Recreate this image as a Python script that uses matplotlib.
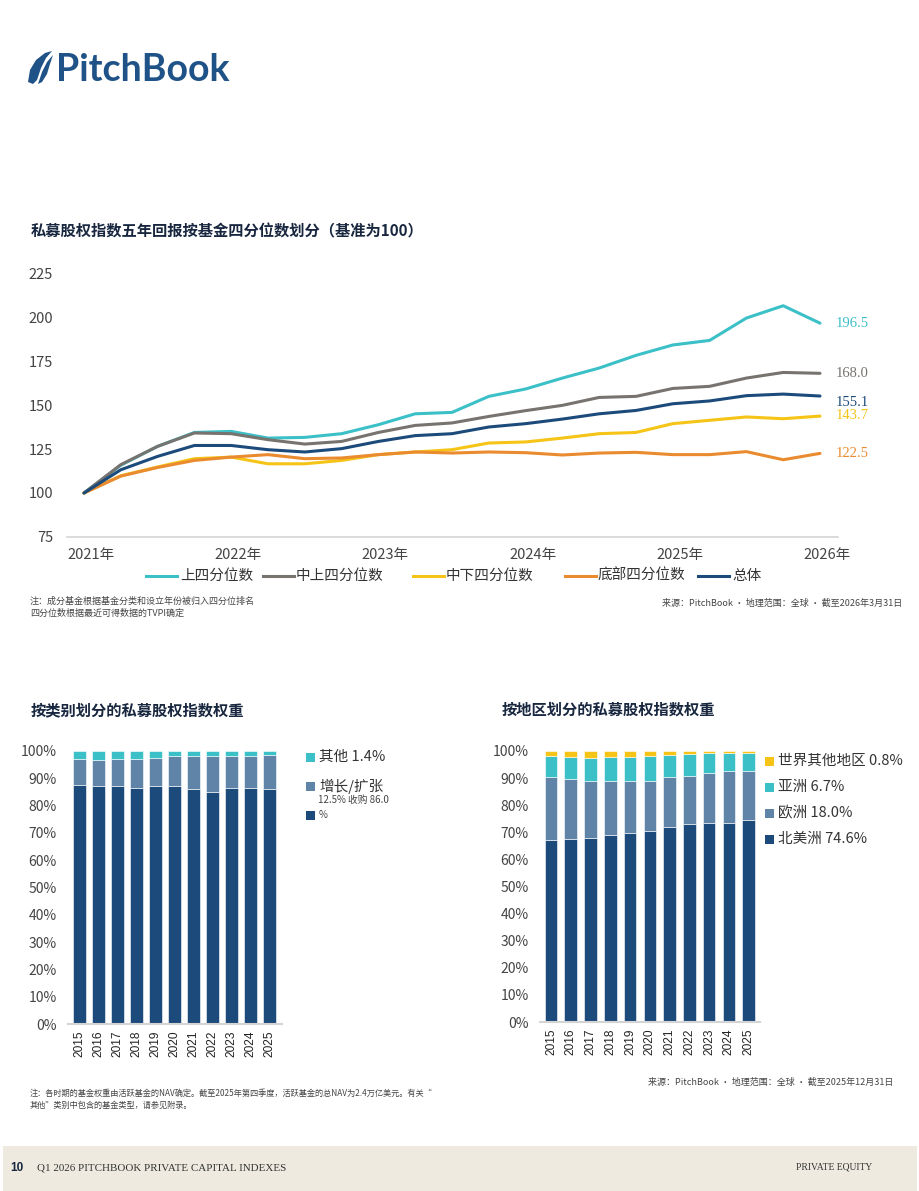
import matplotlib
matplotlib.use('Agg')
import matplotlib.pyplot as plt
from matplotlib.lines import Line2D
from matplotlib.patches import Rectangle, Polygon
import matplotlib.transforms as mtransforms
import numpy as np

plt.rcParams['font.family'] = ['Noto Sans CJK SC', 'DejaVu Sans']

W, H = 920, 1191

# ---------------- data ----------------
quarters = list(range(21))
year_ticks = [0, 4, 8, 12, 16, 20]
year_labels = ['2021年', '2022年', '2023年', '2024年', '2025年', '2026年']

upper_q = [100, 115.8, 126.5, 134.4, 135.0, 131.2, 131.6, 133.7, 138.8, 145.0, 145.8,
           154.9, 159.1, 165.3, 171.0, 178.2, 184.1, 186.7, 199.4, 206.4, 196.5]
upper_mid_q = [100, 116.1, 126.5, 134.1, 133.7, 130.3, 127.8, 129.3, 134.4, 138.4, 139.8,
               143.5, 146.8, 149.8, 154.3, 154.9, 159.4, 160.6, 165.3, 168.5, 168.0]
lower_mid_q = [100, 109.8, 114.8, 119.5, 120.4, 116.6, 116.6, 118.5, 121.8, 123.3, 124.6,
               128.4, 129.0, 131.2, 133.7, 134.4, 139.4, 141.3, 143.2, 142.2, 143.7]
bottom_q = [100, 109.6, 114.5, 118.5, 120.4, 121.8, 119.5, 119.9, 121.8, 123.3, 122.7,
            123.3, 122.9, 121.6, 122.7, 123.1, 121.8, 121.8, 123.5, 118.9, 122.5]
overall = [100, 113.2, 120.8, 127.0, 127.0, 124.6, 123.3, 125.2, 129.3, 132.6, 133.7,
           137.5, 139.4, 142.0, 145.0, 146.9, 150.7, 152.3, 155.3, 156.2, 155.1]
series_names = ['上四分位数', '中上四分位数', '中下四分位数', '底部四分位数', '总体']

years = ['2015', '2016', '2017', '2018', '2019', '2020', '2021', '2022', '2023', '2024', '2025']
# by category (%)
buyout = [87.7, 87.0, 87.3, 86.3, 87.3, 87.0, 86.0, 85.1, 86.3, 86.6, 86.0]
growth = [9.3, 9.8, 9.7, 10.9, 10.3, 11.3, 12.3, 12.9, 12.0, 11.7, 12.5]
other = [3.0, 3.2, 3.0, 2.8, 2.4, 1.7, 1.7, 2.0, 1.7, 1.7, 1.4]
# by region (%)
north_america = [67.3, 67.7, 68.0, 69.1, 69.9, 70.3, 71.8, 73.0, 73.5, 73.5, 74.6]
europe = [23.0, 21.8, 21.0, 19.7, 18.9, 18.5, 18.6, 17.8, 18.4, 19.1, 18.0]
asia = [8.0, 8.2, 8.6, 9.0, 9.1, 9.5, 8.3, 8.0, 7.2, 6.8, 6.7]
rest_world = [1.7, 2.3, 2.4, 2.2, 2.1, 1.7, 1.3, 1.2, 0.9, 0.6, 0.8]

# ---------------- style ----------------
C_CYAN = '#3CC0C8'
C_GRAY = '#77736E'
C_YEL = '#F5C417'
C_ORG = '#E98B2E'
C_NAVY = '#1C4B7B'
C_STEEL = '#6084A7'
C_TITLE = '#18273F'
C_TICK = '#444444'

fig = plt.figure(figsize=(W / 100, H / 100), dpi=100)


def fx(x):
    return x / W


def fy(y):
    return 1 - y / H


def ax_rect(l, t, r, b):
    return [fx(l), fy(b), fx(r) - fx(l), (b - t) / H]


# ---------------- logo ----------------
fig.patches.append(Polygon([[fx(28), fy(82)], [fx(30), fy(70)], [fx(36), fy(60)], [fx(45), fy(53)],
                            [fx(52), fy(51)], [fx(46), fy(58)], [fx(41), fy(68)], [fx(37), fy(80)],
                            [fx(33), fy(84)]], closed=True, transform=fig.transFigure,
                           facecolor='#1F5286', edgecolor='none'))
fig.patches.append(Polygon([[fx(38), fy(84)], [fx(42), fy(72)], [fx(47), fy(62)], [fx(53), fy(55)],
                            [fx(50), fy(64)], [fx(47), fy(74)], [fx(42), fy(82)]], closed=True,
                           transform=fig.transFigure, facecolor='#1F5286', edgecolor='none'))
fig.text(fx(56), fy(70), 'PitchBook', family=['Lato', 'DejaVu Sans'], fontsize=27,
         fontweight='bold', color='#1F5286', va='center', ha='left')

# ---------------- line chart ----------------
fig.text(fx(31), fy(231), '私募股权指数五年回报按基金四分位数划分（基准为100）', fontsize=11,
         fontweight='bold', color=C_TITLE, va='center', ha='left')

ax1 = fig.add_axes(ax_rect(67, 273, 838, 537))
colors = [C_CYAN, C_GRAY, C_YEL, C_ORG, C_NAVY]
all_series = [upper_q, upper_mid_q, lower_mid_q, bottom_q, overall]
for s, c in zip(all_series, colors):
    ax1.plot(quarters, s, color=c, lw=2.2, solid_joinstyle='round', solid_capstyle='round')
ax1.set_xlim(-17 / 36.8, 20 + 18 / 36.8)
ax1.set_ylim(75, 225)
ax1.set_yticks([75, 100, 125, 150, 175, 200, 225])
ax1.set_xticks(year_ticks)
ax1.set_xticklabels(year_labels)
for sp in ['top', 'right', 'left']:
    ax1.spines[sp].set_visible(False)
ax1.spines['bottom'].set_color('#D4D4D4')
ax1.spines['bottom'].set_linewidth(1.2)
ax1.tick_params(axis='both', length=0, labelsize=10.5, labelcolor=C_TICK)
ax1.tick_params(axis='y', pad=10)
ax1.tick_params(axis='x', pad=8)
off = mtransforms.ScaledTranslation(7 / 100, 0, fig.dpi_scale_trans)
for lab in ax1.get_xticklabels():
    lab.set_transform(lab.get_transform() + off)

label_offsets = [0, 0, 1, 0, -6]
for s, c, o in zip(all_series, colors, label_offsets):
    ax1.annotate(f'{s[-1]:.1f}', xy=(quarters[-1], s[-1]), xytext=(16, o),
                 textcoords='offset pixels', color=c, fontsize=10.5, va='center', ha='left',
                 family=['Liberation Serif', 'DejaVu Serif'], annotation_clip=False)

# legend (manual)
leg_pos = [(146, 180), (263, 296), (413, 446), (565, 598), (698, 732)]
for (lx, tx), c, name in zip(leg_pos, colors, series_names):
    fig.add_artist(Line2D([fx(lx), fx(lx + 31)], [fy(576), fy(576)], color=c, lw=2.2,
                          transform=fig.transFigure))
    fig.text(fx(tx), fy(576), name, fontsize=10.5, color='#333333', va='center', ha='left')

fig.text(fx(30), fy(601), '注：成分基金根据基金分类和设立年份被归入四分位排名', fontsize=6.5,
         color='#444444', va='center', ha='left')
fig.text(fx(30), fy(613), '四分位数根据最近可得数据的TVPI确定', fontsize=6.5,
         color='#444444', va='center', ha='left')
fig.text(fx(902), fy(603), '来源：PitchBook · 地理范围：全球 · 截至2026年3月31日', fontsize=6.5,
         color='#444444', va='center', ha='right')

# ---------------- bar charts ----------------
fig.text(fx(31), fy(710), '按类别划分的私募股权指数权重', fontsize=11, fontweight='bold',
         color=C_TITLE, va='center', ha='left')
fig.text(fx(502), fy(710), '按地区划分的私募股权指数权重', fontsize=11, fontweight='bold',
         color=C_TITLE, va='center', ha='left')

xpos = np.arange(len(years))


def style_bar_axes(ax):
    for sp in ['top', 'right', 'left']:
        ax.spines[sp].set_visible(False)
    ax.spines['bottom'].set_color('#D4D4D4')
    ax.spines['bottom'].set_linewidth(1.5)
    ax.set_ylim(0, 100)
    ax.set_yticks(np.arange(0, 101, 10))
    ax.set_yticklabels([f'{v}%' for v in range(0, 101, 10)])
    ax.set_xticks(xpos)
    ax.set_xticklabels(years, rotation=90, family=['Liberation Sans', 'DejaVu Sans'],
                       fontsize=8.6, color='#222222')
    ax.tick_params(axis='both', length=0)
    ax.tick_params(axis='y', labelsize=10, labelcolor=C_TICK, pad=8)
    ax.tick_params(axis='x', pad=5)


ax2 = fig.add_axes(ax_rect(68, 751, 282, 1024))
bw = 0.66
b1 = np.array(buyout)
b2 = np.array(growth)
b3 = np.array(other)
ax2.bar(xpos, b1, width=bw, color=C_NAVY, edgecolor='white', linewidth=0.4)
ax2.bar(xpos, b2, bottom=b1, width=bw, color=C_STEEL, edgecolor='white', linewidth=0.4)
ax2.bar(xpos, b3, bottom=b1 + b2, width=bw, color=C_CYAN, edgecolor='white', linewidth=0.4)
ax2.set_xlim(-(79.5 - 68) / 19.02, 10 + (282 - 269.7) / 19.02)
style_bar_axes(ax2)

ax3 = fig.add_axes(ax_rect(540, 751, 760, 1022))
r1 = np.array(north_america)
r2 = np.array(europe)
r3 = np.array(asia)
r4 = np.array(rest_world)
ax3.bar(xpos, r1, width=0.64, color=C_NAVY, edgecolor='white', linewidth=0.4)
ax3.bar(xpos, r2, bottom=r1, width=0.64, color=C_STEEL, edgecolor='white', linewidth=0.4)
ax3.bar(xpos, r3, bottom=r1 + r2, width=0.64, color=C_CYAN, edgecolor='white', linewidth=0.4)
ax3.bar(xpos, r4, bottom=r1 + r2 + r3, width=0.64, color=C_YEL, edgecolor='white', linewidth=0.4)
ax3.set_xlim(-(551 - 540) / 19.77, 10 + (760 - 748.7) / 19.77)
style_bar_axes(ax3)


def sq(x, y, c, s=9):
    fig.patches.append(Rectangle((fx(x - s / 2), fy(y + s / 2)), s / W, s / H,
                                 transform=fig.transFigure, facecolor=c, edgecolor='none'))


# left legend
sq(311, 757, C_CYAN)
fig.text(fx(319), fy(757), f'其他 {other[-1]:.1f}%', fontsize=10.5, color='#333333',
         va='center', ha='left')
sq(311, 786, C_STEEL)
fig.text(fx(319), fy(786), '增长/扩张', fontsize=10.5, color='#333333', va='center', ha='left')
fig.text(fx(318), fy(800), f'{growth[-1]:.1f}% 收购 {buyout[-1]:.1f}', fontsize=7, color='#444444',
         va='center', ha='left')
sq(311, 815, C_NAVY)
fig.text(fx(319), fy(815), '%', fontsize=7, color='#444444', va='center', ha='left')

# right legend
reg_leg = [(761, C_YEL, f'世界其他地区 {rest_world[-1]:.1f}%'), (787, C_CYAN, f'亚洲 {asia[-1]:.1f}%'),
           (813, C_STEEL, f'欧洲 {europe[-1]:.1f}%'), (839, C_NAVY, f'北美洲 {north_america[-1]:.1f}%')]
for yy, c, t in reg_leg:
    sq(770, yy, c)
    fig.text(fx(778), fy(yy), t, fontsize=10.5, color='#333333', va='center', ha='left')

fig.text(fx(893), fy(1082), '来源：PitchBook · 地理范围：全球 · 截至2025年12月31日', fontsize=6.5,
         color='#444444', va='center', ha='right')
fig.text(fx(30), fy(1093),
         '注：各时期的基金权重由活跃基金的NAV确定。截至2025年第四季度，活跃基金的总NAV为2.4万亿美元。有关“',
         fontsize=5.9, color='#444444', va='center', ha='left')
fig.text(fx(30), fy(1105), '其他”类别中包含的基金类型，请参见附录。', fontsize=5.9,
         color='#444444', va='center', ha='left')

# ---------------- footer ----------------
fig.patches.append(Rectangle((fx(3), fy(1191)), (917 - 3) / W, (1191 - 1146) / H,
                             transform=fig.transFigure, facecolor='#EEEADF', edgecolor='none'))
fig.text(fx(10), fy(1168), '10', fontsize=8.5, fontweight='bold', color=C_TITLE,
         family=['Liberation Sans Narrow', 'Liberation Sans', 'DejaVu Sans'], va='center', ha='left')
fig.text(fx(37), fy(1168), 'Q1 2026 PITCHBOOK PRIVATE CAPITAL INDEXES', fontsize=7.9,
         color='#333333', family=['Liberation Serif', 'DejaVu Serif'], va='center', ha='left')
fig.text(fx(872), fy(1167), 'PRIVATE EQUITY', fontsize=6.9, color='#333333',
         family=['Liberation Serif', 'DejaVu Serif'], va='center', ha='right')

fig.savefig('out.png', dpi=100)
